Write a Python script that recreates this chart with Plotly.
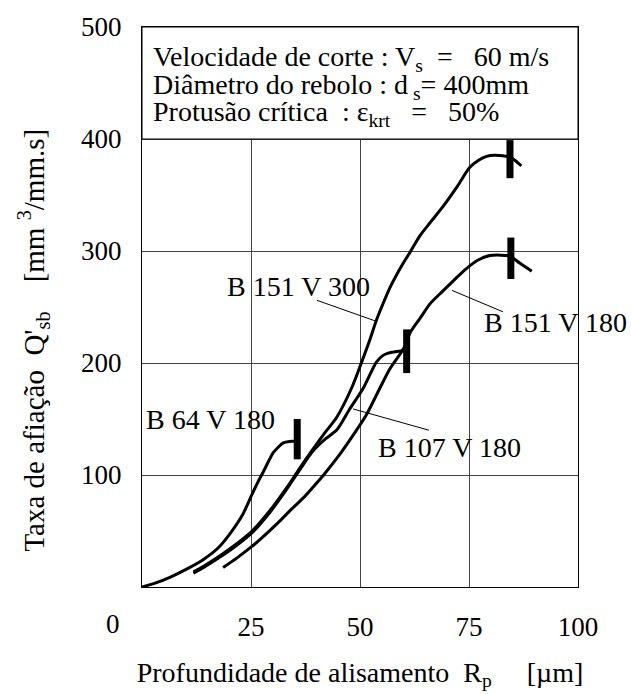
import plotly.graph_objects as go

# ---- data ----
b64_x = [0, 3, 6.4, 10, 14.1, 17.5, 20.2, 23, 25.2, 26.5, 27.8, 29, 30.1, 31.3, 32.4, 33.8, 35.3]
b64_y = [0, 3.5, 8.7, 15.5, 24.6, 35, 47.7, 64, 82.4, 93, 102.7, 112, 120, 125, 128.7, 130, 130]

b151v300_x = [11.8, 14.5, 17.9, 21.5, 25.2, 29.4, 33.2, 36.2, 39.3, 42, 44.7, 48.1, 50.4, 52.2, 53.8,
              55.4, 56.9, 59.9, 61.5, 63.8, 66.1, 69.1, 72.2, 75.2, 77.2, 79, 81, 82.8, 84.4, 85.5, 87]
b151v300_y = [13.5, 19.5, 28, 38, 49.7, 68.5, 88.7, 106.2, 123.5, 138, 151.8, 177.9, 201, 220, 238.6,
              254, 267.5, 289, 299, 313.9, 325.4, 340, 357, 374.7, 381, 384.5, 385.5, 385, 384, 381, 376]

b107v180_x = [11.8, 14.5, 17.9, 21.5, 25.2, 29.4, 33.2, 36.2, 39.3, 42, 44.7, 47.5, 50.8, 53.8, 55.3,
              56.5, 57.6, 59.6, 60.7]
b107v180_y = [12.3, 18.3, 26.7, 36.6, 48.3, 67, 87.3, 104.8, 121.8, 132, 140.3, 158, 177.9, 201, 206.8,
              208.8, 209.7, 211, 211]

b151v180_x = [18.6, 21.8, 25.2, 28.5, 31.7, 34.3, 37, 39.3, 41.6, 45.4, 49.2, 51.5, 54.6, 56.9, 59.2,
              60.3, 61.5, 63.8, 66.1, 68.8, 71.4, 74, 77.1, 79.8, 81.5, 83.3, 84.6, 86.7, 89.4]
b151v180_y = [17.4, 26, 36.2, 47.5, 59.3, 69.5, 79.6, 89.5, 99.8, 118.6, 140, 154, 177.9, 195, 208,
              215, 227, 240, 253, 263.5, 273.3, 283, 292, 296, 296.5, 296, 295, 289, 282]

# critical-protrusion bars: x, y bottom, y top
bar_x = [35.6, 60.7, 84.6, 84.4]
bar_y0 = [114, 191, 275, 365]
bar_y1 = [150, 230, 312, 399]

# curve labels: text, x, y
label_text = ["B 151 V 300", "B 151 V 180", "B 64 V 180", "B 107 V 180"]
label_x = [36, 94.9, 15.7, 70.6]
label_y = [268, 236, 149.7, 124.4]

# leader lines: (x0, y0, x1, y1)
leader_x0 = [40.1, 82.8, 65.8]
leader_y0 = [256, 245.7, 140]
leader_x1 = [53.9, 71.1, 48.4]
leader_y1 = [237, 264.8, 159]

x_ticks = [25, 50, 75, 100]
y_ticks = [100, 200, 300, 400, 500]

info_lines = [
    "Velocidade de corte : V<sub>s</sub>\u00a0\u00a0=\u00a0\u00a0 60 m/s",
    "Diâmetro do rebolo : d<sub>\u00a0s</sub>= 400mm",
    "Protusão crítica\u00a0 : ε<sub>krt</sub>\u00a0\u00a0 =\u00a0\u00a0 50%",
]
info_y = [472, 447, 423]

FONT = '"Liberation Serif", "Times New Roman", Times, serif'

fig = go.Figure()

for xs, ys in [(b64_x, b64_y), (b107v180_x, b107v180_y),
               (b151v300_x, b151v300_y), (b151v180_x, b151v180_y)]:
    fig.add_trace(go.Scatter(x=xs, y=ys, mode="lines",
                             line=dict(color="black", width=3, shape="spline", smoothing=0.8),
                             showlegend=False, hoverinfo="skip"))

for bx, y0, y1 in zip(bar_x, bar_y0, bar_y1):
    fig.add_trace(go.Scatter(x=[bx, bx], y=[y0, y1], mode="lines", line=dict(color="black", width=7),
                             showlegend=False, hoverinfo="skip"))

for x0, y0, x1, y1 in zip(leader_x0, leader_y0, leader_x1, leader_y1):
    fig.add_trace(go.Scatter(x=[x0, x1], y=[y0, y1], mode="lines", line=dict(color="black", width=1),
                             showlegend=False, hoverinfo="skip"))

annotations = []
for t, lx, ly in zip(label_text, label_x, label_y):
    annotations.append(dict(x=lx, y=ly, xref="x", yref="y", text=t, showarrow=False,
                            font=dict(family=FONT, size=28, color="black"), xanchor="center", yanchor="middle"))

for t, iy in zip(info_lines, info_y):
    annotations.append(dict(x=2.0, y=iy, xref="x", yref="y", text=t, showarrow=False,
                            font=dict(family=FONT, size=28, color="black"), xanchor="left", yanchor="middle"))

annotations.append(dict(x=0, y=0, xref="x", yref="y", text="0", showarrow=False, xshift=-29, yshift=-37,
                        font=dict(family=FONT, size=27, color="black"), xanchor="center", yanchor="middle"))

# y-axis title (placed as in the reference, slightly below the plot centre)
annotations.append(dict(x=-0.25, y=0.44, xref="paper", yref="paper", textangle=-90,
                        text="Taxa de afiação\u00a0 Q'<sub>sb</sub>\u00a0\u00a0\u00a0 [mm <sup>3</sup>/mm.s]",
                        showarrow=False, font=dict(family=FONT, size=29, color="black"),
                        xanchor="center", yanchor="middle"))

fig.update_layout(
    width=631, height=694,
    margin=dict(l=142, r=53, t=19, b=99),
    paper_bgcolor="white", plot_bgcolor="white",
    font=dict(family=FONT, size=27, color="black"),
    annotations=annotations,
    shapes=[dict(type="rect", xref="x", yref="y", x0=0, x1=100, y0=400, y1=500,
                 fillcolor="white", line=dict(color="black", width=1), layer="above")],
    xaxis=dict(range=[0, 100], tickvals=x_ticks, ticktext=[str(v) for v in x_ticks],
               showgrid=True, gridcolor="#444", gridwidth=1, zeroline=False,
               showline=True, linecolor="black", linewidth=1, mirror=True, ticks="",
               ticklabelstandoff=16, tickfont=dict(family=FONT, size=27),
               title=dict(text="Profundidade de alisamento\u00a0 R<sub>p</sub>\u00a0\u00a0\u00a0\u00a0 [µm]",
                          font=dict(family=FONT, size=28), standoff=20)),
    yaxis=dict(range=[0, 500], tickvals=y_ticks, ticktext=[str(v) for v in y_ticks],
               showgrid=True, gridcolor="#444", gridwidth=1, zeroline=False,
               showline=True, linecolor="black", linewidth=1, mirror=True, ticks="",
               ticklabelstandoff=14, tickfont=dict(family=FONT, size=27)),
)

fig.write_html("out.html")
